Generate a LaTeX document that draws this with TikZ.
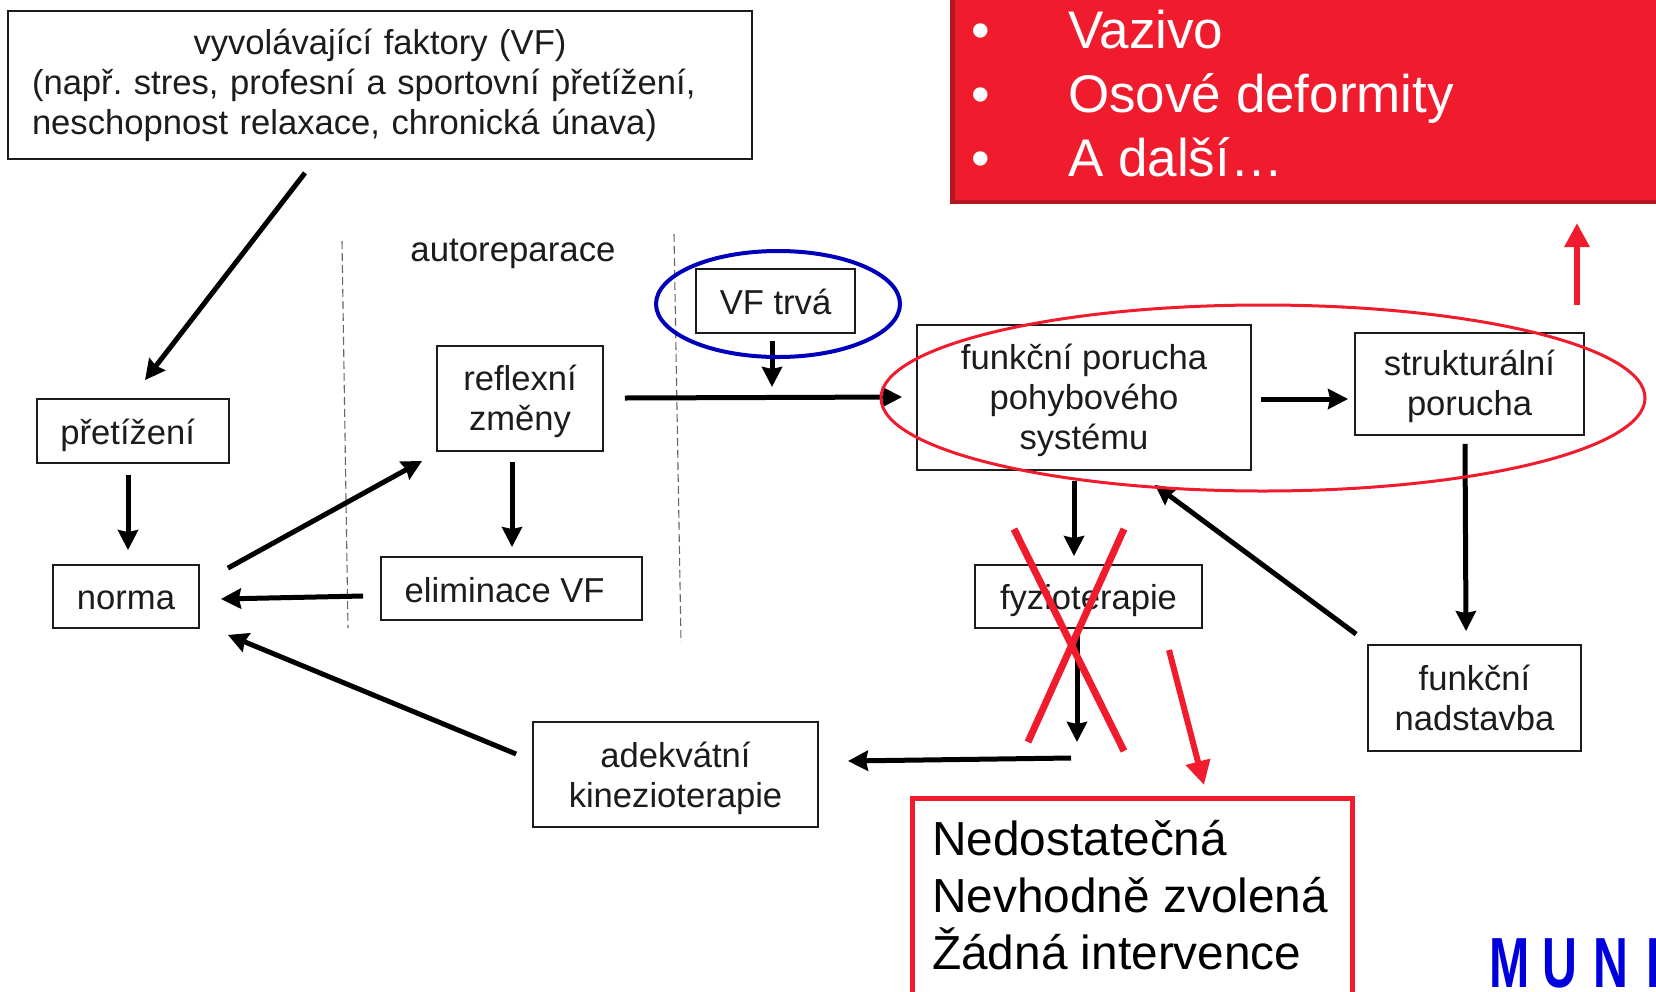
\documentclass[tikz,border=0pt]{standalone}
\usepackage{fontspec}
\setmainfont{Liberation Sans}
\usetikzlibrary{arrows.meta,shapes.geometric,calc}
\definecolor{inkc}{HTML}{1C1C1C}
\definecolor{redc}{HTML}{F01C2D}
\definecolor{darkredc}{HTML}{B21722}
\definecolor{bluec}{HTML}{0000DC}
\newcommand\dn[2]{\raisebox{-#1pt}[\height][\depth]{#2}}
\tikzset{
 bx/.style={draw=inkc,line width=1.8pt,fill=white,inner sep=0pt,align=center,text=inkc,font=\fontsize{34.6}{40}\selectfont\frenchspacing},
 arr/.style={draw=black,line width=5pt,-{Stealth[inset=2pt,length=20pt,width=20pt]}},
 redarr/.style={draw=redc,line width=6pt,-{Triangle[length=24pt,width=24pt]}},
 cross/.style={draw=redc,line width=7pt},
 guide/.style={draw=gray!80!black,line width=1.1pt,dash pattern=on 8pt off 4pt},
 elli/.style={ellipse,draw,fill=none,inner sep=0pt}
}
\begin{document}
\begin{tikzpicture}[x=1pt,y=-1pt]
\useasboundingbox (0,0) rectangle (1656,991);
\clip (0,0) rectangle (1656,991);
\fill[white] (0,0) rectangle (1656,991);

% dashed guides
\coordinate (g1a) at (342,241); \coordinate (g1b) at (348,628);
\coordinate (g2a) at (674,234); \coordinate (g2b) at (681,642);
\draw[guide] (g1a) -- (g1b);
\draw[guide] (g2a) -- (g2b);

% boxes
\node[bx,minimum width=744pt,minimum height=148pt,text width=696pt,align=left] (vf) at (380,85)
 {\makebox[\linewidth][c]{vyvolávající faktory (VF)}\\(např. stres, profesní a sportovní přetížení,\\neschopnost relaxace, chronická únava)};
\node[bx,minimum width=192pt,minimum height=64pt] (pre) at (133,431) {\dn{4}{přetížení}\hspace*{10.6pt}};
\node[bx,minimum width=146pt,minimum height=63pt] (norma) at (126,596.5) {\dn{4}{norma}};
\node[bx,minimum width=166pt,minimum height=105pt] (refl) at (520,398.5) {\dn{3}{reflexní}\\\dn{3}{změny}};
\node[bx,minimum width=261pt,minimum height=63pt] (elim) at (511.5,588.5) {\dn{1.5}{eliminace VF}\hspace*{13.7pt}};
\node[bx,minimum width=159pt,minimum height=64pt] (vft) at (775.5,301) {\dn{1}{VF trvá}};
\node[bx,minimum width=334pt,minimum height=145pt] (fp) at (1084,397.5) {\dn{3}{funkční porucha}\\\dn{3}{pohybového}\\\dn{3}{systému}};
\node[bx,minimum width=229pt,minimum height=102pt] (sp) at (1469.5,384) {\dn{2.5}{strukturální}\\\dn{2.5}{porucha}};
\node[bx,minimum width=227pt,minimum height=63pt] (fy) at (1088.5,596.5) {\dn{4}{fyzioterapie}};
\node[bx,minimum width=213pt,minimum height=106pt] (nad) at (1474.5,698) {funkční\\nadstavba};
\node[bx,minimum width=285pt,minimum height=105pt] (ade) at (675.5,774.5) {\dn{4}{adekvátní}\\\dn{4}{kinezioterapie}};
\node[text=inkc,inner sep=0pt,font=\fontsize{34.8}{40}\selectfont] (auto) at (513,254) {autoreparace};

% free ends
\coordinate (vfend) at (772,387);
\coordinate (fyend) at (1077,742);
\coordinate (fystart) at (1071,758);
\coordinate (upa) at (1577,305);
\coordinate (upb) at (1577,223);
\coordinate (dna) at (1169,650);
\coordinate (dnb) at (1204,785);
\coordinate (xa) at (1014,529);
\coordinate (xb) at (1124,751);
\coordinate (xc) at (1124,529);
\coordinate (xd) at (1028,742);

% connectors
\draw[arr] ([shift={(-75,13)}]vf.south) -- ([shift={(12,-18)}]pre.north);
\draw[arr] ([shift={(-5,11)}]pre.south) -- ([shift={(-5,-14)}]pre.south |- norma.north);
\draw[arr] ([shift={(28,4)}]norma.north east) -- ([shift={(-14,9)}]refl.south west);
\draw[arr] ([shift={(-8,10)}]refl.south) -- ([shift={(0.5,-9)}]elim.north);
\draw[arr] ([shift={(-17,7.5)}]elim.west) -- ([shift={(21,2.5)}]norma.east);
\draw[arr] ([shift={(-16,-20.5)}]ade.west) -- ([shift={(28,6)}]norma.south east);
\draw[arr] ([shift={(21,-0.5)}]refl.east) -- ([shift={(-14,-0.5)}]fp.west);
\draw[arr] ([shift={(-3.5,7)}]vft.south) -- (vfend);
\draw[arr] ([shift={(9,1.5)}]fp.east) -- ([shift={(-6,15)}]sp.west);
\draw[arr] ([shift={(-4.5,8)}]sp.south) -- ([shift={(-8.5,-13)}]nad.north);
\draw[arr] ([shift={(-10,10)}]fp.south) -- ([shift={(-14.5,-8)}]fy.north);
\draw[arr] ([shift={(-11.5,2)}]fy.south) -- (fyend);
\draw[arr] (fystart) -- ([shift={(29,-13.5)}]ade.east);
\draw[arr] ([shift={(-11,-10)}]nad.north west) -- ([shift={(-97,14)}]fp.south east);

% ellipses
\node[elli,draw=bluec!85!black,line width=4pt,minimum width=244pt,minimum height=106pt] (eb) at (778,304) {};
\node[elli,draw=redc,line width=3pt,minimum width=764pt,minimum height=186pt] (er) at (1263,398) {};

% red top box
\node[draw=darkredc,line width=4.5pt,fill=redc,minimum width=730pt,minimum height=230pt,inner sep=0pt,anchor=south west] (topbox) at (950,204) {};
\node[text=white,anchor=north west,inner sep=0pt,align=left,font=\fontsize{53}{64}\selectfont] (toplist) at (971,10)
 {\makebox[97pt][l]{•}Vazivo\\\makebox[97pt][l]{•}Osové deformity\\\makebox[97pt][l]{•}A další…};

% red bottom box
\node[draw=redc,line width=4.5pt,fill=white,minimum width=440pt,minimum height=200pt,inner sep=0pt,anchor=north west] (botbox) at (910,796) {};
\node[text=black,anchor=west,inner sep=0pt,align=left,font=\fontsize{47.8}{57}\selectfont] (botlist) at (932,895)
 {Nedostatečná\\Nevhodně zvolená\\Žádná intervence};

% red marks
\draw[redarr] (upa) -- (upb);
\draw[redarr] (dna) -- (dnb);
\draw[cross] (xa) -- (xb);
\draw[cross] (xc) -- (xd);

% logo
\node[text=bluec,anchor=base west,inner sep=0pt,xscale=0.68,font=\fontsize{71}{71}\bfseries\selectfont] (muni) at (1489,987)
 {M\hspace{20pt}U\hspace{23.5pt}N\hspace{26pt}I};
\end{tikzpicture}
\end{document}
